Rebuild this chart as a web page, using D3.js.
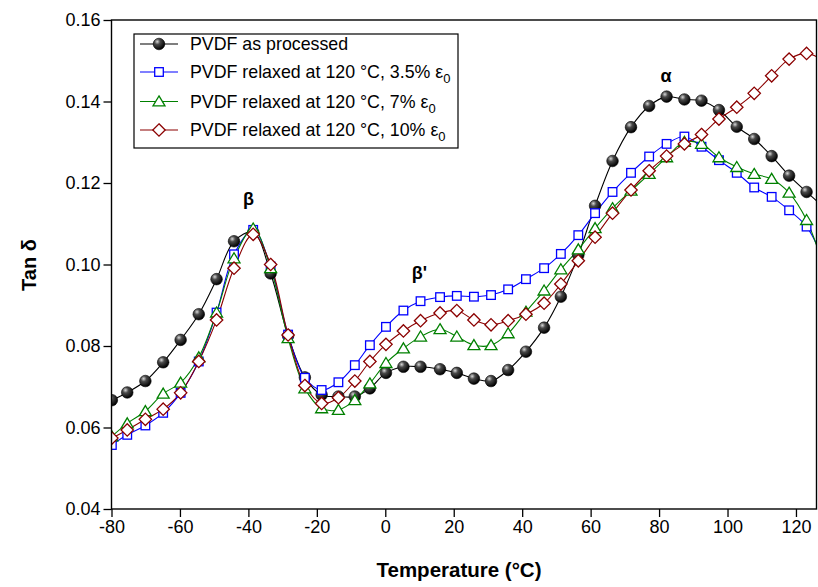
<!DOCTYPE html>
<html>
<head>
<meta charset="utf-8">
<script src="https://cdn.jsdelivr.net/npm/d3@7"></script>
<style>
  body { margin: 0; background: #fff; }
  svg { font-family: "Liberation Sans", Arial, sans-serif; }
</style>
</head>
<body>
<div id="chart"></div>
<script>
// temperatures (°C) of the measured points, shared by all samples
const temps = [-79.9, -75.4, -70.1, -64.9, -59.8, -54.5, -49.3, -44.2, -38.6, -33.5,
    -28.4, -23.5, -18.6, -13.7, -8.9, -4.5, 0.2, 5.3, 10.3, 16.0,
    20.9, 25.9, 30.9, 35.9, 41.1, 46.4, 51.3, 56.4, 61.3, 66.4,
    71.8, 77.1, 82.2, 87.4, 92.4, 97.5, 102.7, 107.8, 112.9, 118.0,
    123.1, 128.2];

const asProcessed = [0.0667, 0.0686, 0.0714, 0.0760, 0.0815, 0.0878, 0.0964, 0.1057, 0.1079, 0.0978,
    0.0825, 0.0723, 0.0680, 0.0676, 0.0676, 0.0696, 0.0734, 0.0749, 0.0749, 0.0743,
    0.0734, 0.0720, 0.0714, 0.0741, 0.0786, 0.0845, 0.0921, 0.1023, 0.1144, 0.1254,
    0.1337, 0.1389, 0.1412, 0.1405, 0.1402, 0.1379, 0.1338, 0.1308, 0.1266, 0.1218,
    0.1178, 0.1140];

const relaxed35 = [0.0557, 0.0582, 0.0605, 0.0636, 0.0685, 0.0762, 0.0882, 0.1025, 0.1085, 0.0995,
    0.0828, 0.0722, 0.0692, 0.0711, 0.0753, 0.0802, 0.0847, 0.0887, 0.0910, 0.0920,
    0.0923, 0.0921, 0.0925, 0.0939, 0.0964, 0.0991, 0.1026, 0.1072, 0.1126, 0.1178,
    0.1225, 0.1265, 0.1296, 0.1314, 0.1289, 0.1256, 0.1225, 0.1189, 0.1166, 0.1133,
    0.1093, 0.1010];

const relaxed7 = [0.0578, 0.0610, 0.0640, 0.0683, 0.0710, 0.0772, 0.0882, 0.1015, 0.1088, 0.0991,
    0.0819, 0.0696, 0.0647, 0.0643, 0.0667, 0.0708, 0.0758, 0.0794, 0.0823, 0.0841,
    0.0823, 0.0802, 0.0802, 0.0831, 0.0884, 0.0936, 0.0988, 0.1037, 0.1089, 0.1138,
    0.1181, 0.1222, 0.1263, 0.1301, 0.1296, 0.1263, 0.1239, 0.1222, 0.1210, 0.1176,
    0.1109, 0.0990];

const relaxed10 = [0.0574, 0.0594, 0.0620, 0.0645, 0.0685, 0.0762, 0.0864, 0.0991, 0.1074, 0.1000,
    0.0827, 0.0703, 0.0659, 0.0673, 0.0714, 0.0762, 0.0804, 0.0837, 0.0862, 0.0881,
    0.0887, 0.0864, 0.0852, 0.0862, 0.0878, 0.0905, 0.0952, 0.1009, 0.1067, 0.1126,
    0.1183, 0.1230, 0.1266, 0.1296, 0.1319, 0.1357, 0.1386, 0.1420, 0.1463, 0.1504,
    0.1518, 0.1500];

const seriesNames = ["PVDF as processed", "PVDF relaxed at 120 °C, 3.5% ", "PVDF relaxed at 120 °C, 7% ", "PVDF relaxed at 120 °C, 10% "];
const xTicks = [-80, -60, -40, -20, 0, 20, 40, 60, 80, 100, 120];
const yTicks = [0.04, 0.06, 0.08, 0.10, 0.12, 0.14, 0.16];
const peakLabels = [
    {text: "β", t: -40, v: 0.1145},
    {text: "β'", t: 10, v: 0.0965},
    {text: "α", t: 82, v: 0.1448}
];

const series = [
    {name: seriesNames[0], values: asProcessed, color: "#000000", marker: "ball", sub: false},
    {name: seriesNames[1], values: relaxed35, color: "#0000ff", marker: "square", sub: true},
    {name: seriesNames[2], values: relaxed7, color: "#008000", marker: "triangle", sub: true},
    {name: seriesNames[3], values: relaxed10, color: "#8b0000", marker: "diamond", sub: true}
];

const W = 818, H = 587;
const plot = {left: 111.5, right: 816.5, top: 20, bottom: 509};

const svg = d3.select("#chart").append("svg")
    .attr("width", W)
    .attr("height", H);

const x = d3.scaleLinear().domain([-80, 126]).range([plot.left, plot.right]);
const y = d3.scaleLinear().domain([0.04, 0.16]).range([plot.bottom, plot.top]);

const defs = svg.append("defs");
defs.append("clipPath").attr("id", "plot-clip")
    .append("rect")
    .attr("x", plot.left).attr("y", plot.top)
    .attr("width", plot.right - plot.left).attr("height", plot.bottom - plot.top);

// shaded sphere for the black markers
const ballGrad = defs.append("radialGradient")
    .attr("id", "ball")
    .attr("cx", "35%").attr("cy", "30%").attr("r", "70%");
ballGrad.append("stop").attr("offset", "0%").attr("stop-color", "#d8d8d8");
ballGrad.append("stop").attr("offset", "35%").attr("stop-color", "#4a4a4a");
ballGrad.append("stop").attr("offset", "100%").attr("stop-color", "#000");

function drawMarker(sel, kind, color) {
    if (kind === "ball") {
        sel.append("circle").attr("r", 5.8)
            .attr("fill", "url(#ball)").attr("stroke", "#000").attr("stroke-width", 0.6);
    } else if (kind === "square") {
        sel.append("rect").attr("x", -4.3).attr("y", -4.3).attr("width", 8.6).attr("height", 8.6)
            .attr("fill", "#fff").attr("stroke", color).attr("stroke-width", 1.3);
    } else if (kind === "triangle") {
        sel.append("path").attr("d", "M0,-5.6L6,4.4L-6,4.4Z")
            .attr("fill", "#fff").attr("stroke", color).attr("stroke-width", 1.3);
    } else {
        sel.append("path").attr("d", "M0,-6.2L6.2,0L0,6.2L-6.2,0Z")
            .attr("fill", "#fff").attr("stroke", color).attr("stroke-width", 1.3);
    }
}

// curves
const line = d3.line()
    .x((d, i) => x(temps[i]))
    .y(d => y(d))
    .curve(d3.curveCatmullRom.alpha(0.5));

const plotG = svg.append("g").attr("clip-path", "url(#plot-clip)");

series.forEach(s => {
    plotG.append("path")
        .datum(s.values)
        .attr("fill", "none")
        .attr("stroke", s.color)
        .attr("stroke-width", 1.1)
        .attr("d", line);
});

series.forEach(s => {
    plotG.append("g")
        .selectAll("g")
        .data(s.values)
        .enter()
        .append("g")
        .attr("transform", (d, i) => `translate(${x(temps[i])},${y(d)})`)
        .each(function () { drawMarker(d3.select(this), s.marker, s.color); });
});

// frame
svg.append("rect")
    .attr("x", plot.left).attr("y", plot.top)
    .attr("width", plot.right - plot.left).attr("height", plot.bottom - plot.top)
    .attr("fill", "none").attr("stroke", "#000").attr("stroke-width", 1.4);

// x axis (plain hyphen for negative labels, as in the original)
const xAxis = svg.append("g").attr("transform", `translate(0,${plot.bottom})`);
xAxis.call(d3.axisBottom(x).tickValues(d3.range(-70, 126, 20)).tickSize(4).tickFormat(""));
xAxis.call(d3.axisBottom(x).tickValues(xTicks).tickSize(8).tickPadding(3).tickFormat(d => String(d)));
xAxis.selectAll(".domain").remove();
xAxis.selectAll("line").attr("stroke-width", 1.3);
xAxis.selectAll("text")
    .style("font-size", "18px")
    .attr("fill", "#000");

// y axis
const yAxis = svg.append("g").attr("transform", `translate(${plot.left},0)`);
yAxis.call(d3.axisLeft(y).tickValues([0.05, 0.07, 0.09, 0.11, 0.13, 0.15]).tickSize(4).tickFormat(""));
yAxis.call(d3.axisLeft(y).tickValues(yTicks).tickSize(8).tickPadding(3).tickFormat(d3.format(".2f")));
yAxis.selectAll(".domain").remove();
yAxis.selectAll("line").attr("stroke-width", 1.3);
yAxis.selectAll("text").style("font-size", "18px").attr("fill", "#000");

// axis titles
svg.append("text")
    .attr("x", (plot.left + plot.right) / 2 - 5)
    .attr("y", 577)
    .attr("text-anchor", "middle")
    .style("font-size", "20.5px")
    .style("font-weight", "bold")
    .text("Temperature (°C)");

svg.append("text")
    .attr("transform", "translate(36,265) rotate(-90)")
    .attr("text-anchor", "middle")
    .style("font-size", "20px")
    .style("font-weight", "bold")
    .text("Tan δ");

// peak labels
svg.selectAll(".peak")
    .data(peakLabels)
    .enter()
    .append("text")
    .attr("class", "peak")
    .attr("x", d => x(d.t))
    .attr("y", d => y(d.v))
    .attr("text-anchor", "middle")
    .style("font-size", "18px")
    .style("font-weight", "bold")
    .text(d => d.text);

// legend
const legend = svg.append("g");
legend.append("rect")
    .attr("x", 134).attr("y", 34).attr("width", 324).attr("height", 114)
    .attr("fill", "#fff").attr("stroke", "#000").attr("stroke-width", 1.2);

const rowY = [44, 72, 101.5, 130];
series.forEach((s, i) => {
    const row = legend.append("g").attr("transform", `translate(0,${rowY[i]})`);
    row.append("line").attr("x1", 140).attr("x2", 178)
        .attr("stroke", s.color).attr("stroke-width", 1.1);
    drawMarker(row.append("g").attr("transform", "translate(159,0)"), s.marker, s.color);
    const txt = row.append("text").attr("x", 190).attr("y", 6)
        .style("font-size", "17.8px");
    txt.append("tspan").text(s.name);
    if (s.sub) {
        txt.append("tspan").text("ε");
        txt.append("tspan").attr("dy", 5).style("font-size", "13px").text("0");
    }
});
</script>
</body>
</html>
